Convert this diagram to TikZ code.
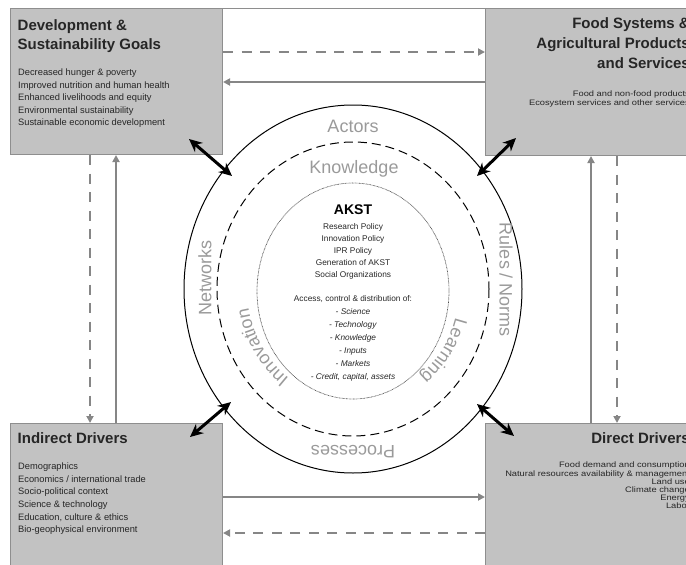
\documentclass[tikz,border=0pt]{standalone}
\usepackage{fontspec}
\setmainfont{Liberation Sans}
\usepackage{graphicx}
\usetikzlibrary{arrows.meta,decorations.text}
\definecolor{boxfill}{HTML}{C2C2C2}
\definecolor{boxline}{HTML}{8E8E8E}
\definecolor{flowgray}{HTML}{868686}
\definecolor{ringgray}{HTML}{9A9A9A}
\definecolor{inktext}{HTML}{262626}
\begin{document}
\begin{tikzpicture}[x=1pt,y=-1pt,
  box/.style={draw=boxline, line width=1pt, fill=boxfill, anchor=north west, inner sep=0pt},
  title/.style={font=\fontsize{15}{19}\selectfont\bfseries, inner sep=0pt, text=inktext},
  body/.style={font=\fontsize{9.3}{12.6}\selectfont, inner sep=0pt, text=inktext},
  flow/.style={draw=flowgray, line width=1.8pt, -{Triangle[length=7pt,width=7pt]}},
  dflow/.style={flow, line width=2.4pt, dash pattern=on 10pt off 8.5pt},
  twoway/.style={line width=3pt, {Stealth[length=13pt,width=12pt]}-{Stealth[length=13pt,width=12pt]}},
  ring/.style={font=\fontsize{18}{18}\selectfont, text=ringgray, inner sep=0pt},
  core/.style={font=\fontsize{8.3}{12}\selectfont, inner sep=0pt, align=center, text=inktext}
]
\useasboundingbox (0,0) rectangle (686,565);
\clip (0,0) rectangle (686,565);

% corner boxes
\node[box, minimum width=212pt, minimum height=146pt] (tl) at (10,8) {};
\node[box, minimum width=230pt, minimum height=147pt] (tr) at (485,8) {};
\node[box, minimum width=212pt, minimum height=160pt] (bl) at (10,423) {};
\node[box, minimum width=230pt, minimum height=160pt] (br) at (485,423) {};
\draw[boxline, line width=0.8pt] (tl.north east) -- (tr.north west);

% box texts
\node[title, anchor=north west, align=left] (tlt) at (17.5,19) {Development \&\\Sustainability Goals};
\node[body, anchor=north west, align=left] (tlb) at (18,68.5) {Decreased hunger \& poverty\\Improved nutrition and human health\\Enhanced livelihoods and equity\\Environmental sustainability\\Sustainable economic development};

\node[title, anchor=north east, align=right, font=\fontsize{15}{20}\selectfont\bfseries] (trt) at (690,17) {Food Systems \&\\Agricultural Products\\and Services};
\node[body, anchor=north east, font=\fontsize{9.3}{10.6}\selectfont] (trb) at (690,90.3) {\scalebox{1}[0.85]{\begin{tabular}{@{}r@{}}Food and non-food products\\Ecosystem services and other services\end{tabular}}};

\node[title, anchor=north west] (blt) at (17.5,432) {Indirect Drivers};
\node[body, anchor=north west, align=left, font=\fontsize{9.3}{12.7}\selectfont] (blb) at (18,462.4) {Demographics\\Economics / international trade\\Socio-political context\\Science \& technology\\Education, culture \& ethics\\Bio-geophysical environment};

\node[title, anchor=north east] (brt) at (690,432) {Direct Drivers};
\node[body, anchor=north east, font=\fontsize{9.3}{9.4}\selectfont] (brb) at (690,462) {\scalebox{1}[0.85]{\begin{tabular}{@{}r@{}}Food demand and consumption\\Natural resources availability \& management\\Land use\\Climate change\\Energy\\Labor\end{tabular}}};

% gray flows between boxes
\draw[dflow] (tl.east |- 0,52) -- (tr.west |- 0,52);
\draw[flow] (tr.west |- 0,82) -- (tl.east |- 0,82);
\draw[dflow] (tl.south -| 90,0) -- (bl.north -| 90,0);
\draw[flow] (bl.north -| 116,0) -- (tl.south -| 116,0);
\draw[flow] (br.north -| 591,0) -- (tr.south -| 591,0);
\draw[dflow] (tr.south -| 617,0) -- (br.north -| 617,0);
\draw[flow] (bl.east |- 0,497) -- (br.west |- 0,497);
\draw[dflow] (br.west |- 0,533) -- (bl.east |- 0,533);

% rings
\draw[line width=1pt] (353,289) ellipse [x radius=169, y radius=184];
\draw[line width=1pt, dash pattern=on 9pt off 5pt] (353,289) ellipse [x radius=136, y radius=147];
\draw[line width=0.7pt, dash pattern=on 0.7pt off 0.7pt, black!70] (353,291) ellipse [x radius=96, y radius=108];

% two-way arrows
\coordinate (a1) at (189,139); \coordinate (b1) at (232,176);
\coordinate (a2) at (516,138); \coordinate (b2) at (477,176);
\coordinate (a3) at (190,437); \coordinate (b3) at (231,402);
\coordinate (a4) at (514,436); \coordinate (b4) at (477,404);
\draw[twoway] (a1) -- (b1);
\draw[twoway] (a2) -- (b2);
\draw[twoway] (a3) -- (b3);
\draw[twoway] (a4) -- (b4);

% ring labels
\node[ring] (actors) at (353,126) {Actors};
\node[ring] (know) at (354,169) {Knowledge};
\node[ring, rotate=90] (netw) at (205,278) {Networks};
\node[ring, rotate=-90] (rules) at (506,280) {Rules / Norms};
\node[ring, rotate=180] (proc) at (353,452) {Processes};
\path[decorate, decoration={text along path, text align=center,
   text={|\fontsize{18}{18}\selectfont\color{ringgray}|Innovation}}]
  (353,289) ++(-262:106 and 112) arc[start angle=-262, end angle=-162, x radius=106, y radius=112];
\path[decorate, decoration={text along path, text align=center,
   text={|\fontsize{18}{18}\selectfont\color{ringgray}|Learning}}]
  (353,289) ++(-16.5:106 and 112) arc[start angle=-16.5, end angle=83.5, x radius=106, y radius=112];

% core
\node[font=\fontsize{14}{14}\selectfont\bfseries, inner sep=0pt, text=black] (akst) at (353,210) {AKST};
\node[core, anchor=north] (pol) at (353,222.8) {Research Policy\\Innovation Policy\\IPR Policy\\Generation of AKST\\Social Organizations};
\node[core, anchor=north, font=\fontsize{8.3}{13}\selectfont] (acc) at (353,294.8) {Access, control \& distribution of:\\\textit{- Science}\\\textit{- Technology}\\\textit{- Knowledge}\\\textit{- Inputs}\\\textit{- Markets}\\\textit{- Credit, capital, assets}};
\end{tikzpicture}
\end{document}
